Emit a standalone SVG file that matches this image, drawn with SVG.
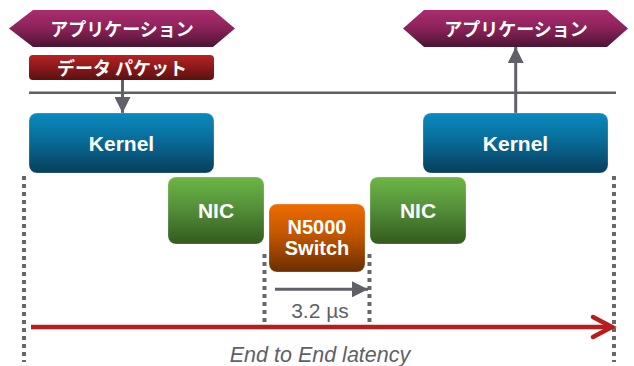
<svg xmlns="http://www.w3.org/2000/svg" width="634" height="366" viewBox="0 0 634 366">
<defs>
<linearGradient id="gApp" x1="0" y1="0" x2="0" y2="1"><stop offset="0" stop-color="#ac2c70"/><stop offset="0.5" stop-color="#8a2259"/><stop offset="1" stop-color="#4c1533"/></linearGradient>
<linearGradient id="gPkt" x1="0" y1="0" x2="0" y2="1"><stop offset="0" stop-color="#b82222"/><stop offset="1" stop-color="#5c1012"/></linearGradient>
<linearGradient id="gKer" x1="0" y1="0" x2="0" y2="1"><stop offset="0" stop-color="#0a8abf"/><stop offset="0.45" stop-color="#086c98"/><stop offset="1" stop-color="#073f5c"/></linearGradient>
<linearGradient id="gNic" x1="0" y1="0" x2="0" y2="1"><stop offset="0" stop-color="#6db645"/><stop offset="0.45" stop-color="#54913a"/><stop offset="1" stop-color="#335a1d"/></linearGradient>
<linearGradient id="gSw" x1="0" y1="0" x2="0" y2="1"><stop offset="0" stop-color="#ee6c00"/><stop offset="0.45" stop-color="#c25600"/><stop offset="1" stop-color="#6a2e00"/></linearGradient>
<marker id="ah" viewBox="0 0 16 16" refX="16" refY="8" markerWidth="16" markerHeight="16" markerUnits="userSpaceOnUse" orient="auto"><path d="M0,0 L16,8 L0,16 Z" fill="#5f6068"/></marker>
</defs>
<style>
.jp{font-family:"Noto Sans CJK JP","Noto Sans CJK SC",sans-serif;font-weight:bold;font-size:18px;fill:#ffffff;text-anchor:middle}
.lb{font-family:"Liberation Sans",Arial,sans-serif;font-weight:bold;font-size:21px;fill:#ffffff;text-anchor:middle}
.sw{font-size:20px}
.gl{stroke:#5f6068;fill:none}
.dot{stroke:#67676f;stroke-width:4;stroke-dasharray:4 4;fill:none}
.box{stroke:#ffffff;stroke-opacity:0.25;stroke-width:1}
</style>
<g id="connectors">
<line class="gl" x1="29" y1="92.7" x2="616" y2="92.7" stroke-width="2.5"/>
<line class="gl" x1="122.5" y1="80" x2="122.5" y2="113" stroke-width="3" marker-end="url(#ah)"/>
<line class="gl" x1="515.7" y1="113" x2="515.7" y2="47" stroke-width="3" marker-end="url(#ah)"/>
<line class="dot" x1="24" y1="176" x2="24" y2="362"/>
<line class="dot" x1="614" y1="176" x2="614" y2="362"/>
<line class="dot" x1="264.5" y1="254" x2="264.5" y2="326"/>
<line class="dot" x1="369.5" y1="254" x2="369.5" y2="326"/>
<line class="gl" x1="275" y1="289.3" x2="368" y2="289.3" stroke-width="3" marker-end="url(#ah)"/>
<line x1="31" y1="327" x2="611" y2="327" stroke="#b81c1c" stroke-width="4.5"/>
<polyline points="593,317 612,327 593,337" fill="none" stroke="#b81c1c" stroke-width="4.5" stroke-linecap="round" stroke-linejoin="miter"/>
</g>
<g id="app-left">
<polygon points="9,28.5 33,10 213,10 235,28.5 213,47 33,47" fill="url(#gApp)"/>
<text class="jp" x="122" y="35.5">アプリケーション</text>
</g>
<g id="app-right">
<polygon points="403,28.5 424,10 607,10 628,28.5 607,47 424,47" fill="url(#gApp)"/>
<text class="jp" x="516" y="35.5">アプリケーション</text>
</g>
<g id="packet">
<rect x="29" y="55" width="185" height="25" rx="4" fill="url(#gPkt)"/>
<text class="jp" x="122" y="74.5">データ パケット</text>
</g>
<g id="kernel-left">
<rect class="box" x="29" y="113" width="185" height="60" rx="8" fill="url(#gKer)"/>
<text class="lb" x="121.5" y="150.7">Kernel</text>
</g>
<g id="kernel-right">
<rect class="box" x="423" y="113" width="185" height="60" rx="8" fill="url(#gKer)"/>
<text class="lb" x="515.5" y="150.7">Kernel</text>
</g>
<g id="nic-left">
<rect class="box" x="168" y="177" width="96" height="67" rx="8" fill="url(#gNic)"/>
<text class="lb" x="216" y="217.5">NIC</text>
</g>
<g id="nic-right">
<rect class="box" x="370" y="177" width="96" height="67" rx="8" fill="url(#gNic)"/>
<text class="lb" x="418" y="217.5">NIC</text>
</g>
<g id="switch">
<rect class="box" x="269" y="204" width="96" height="68" rx="8" fill="url(#gSw)"/>
<text class="lb sw" x="317" y="233.5">N5000</text>
<text class="lb sw" x="317" y="254.5">Switch</text>
</g>
<g id="labels">
<text x="320" y="318" font-family="'Liberation Sans',Arial,sans-serif" font-size="21" fill="#5f6068" text-anchor="middle">3.2 µs</text>
<text x="320" y="362" font-family="'Liberation Sans',Arial,sans-serif" font-size="21.5" font-style="italic" fill="#5f6068" text-anchor="middle">End to End latency</text>
</g>
</svg>
